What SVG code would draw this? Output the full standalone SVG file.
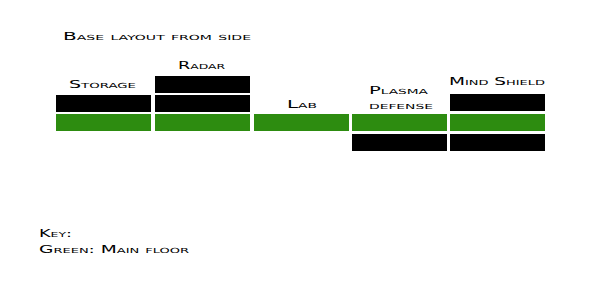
<svg xmlns="http://www.w3.org/2000/svg" width="600" height="300" viewBox="0 0 600 300">
<style>
text{font-family:"DejaVu Sans","Liberation Sans",sans-serif;font-size:10px;font-variant:small-caps;fill:#000}
.g{fill:#2d8c10}
.b{fill:#000}
</style>
<rect width="600" height="300" fill="#fff"/>
<text x="63" y="40" textLength="188" lengthAdjust="spacingAndGlyphs">Base layout from side</text>
<g id="storage">
<text x="69" y="88" textLength="67" lengthAdjust="spacingAndGlyphs">Storage</text>
<rect class="b" x="56" y="95" width="95" height="17"/>
<rect class="g" x="56" y="114" width="95" height="17"/>
</g>
<g id="radar">
<text x="178" y="69" textLength="47" lengthAdjust="spacingAndGlyphs">Radar</text>
<rect class="b" x="155" y="76" width="95" height="17"/>
<rect class="b" x="155" y="95" width="95" height="17"/>
<rect class="g" x="155" y="114" width="95" height="17"/>
</g>
<g id="lab">
<text x="287" y="108" textLength="30" lengthAdjust="spacingAndGlyphs">Lab</text>
<rect class="g" x="254" y="114" width="95" height="17"/>
</g>
<g id="plasma">
<text x="369" y="94" textLength="59" lengthAdjust="spacingAndGlyphs">Plasma</text>
<text x="369" y="109" textLength="64" lengthAdjust="spacingAndGlyphs">defense</text>
<rect class="g" x="352" y="114" width="95" height="17"/>
<rect class="b" x="352" y="134" width="95" height="17"/>
</g>
<g id="mindshield">
<text x="449" y="85" textLength="96" lengthAdjust="spacingAndGlyphs">Mind Shield</text>
<rect class="b" x="450" y="94" width="95" height="17"/>
<rect class="g" x="450" y="114" width="95" height="17"/>
<rect class="b" x="450" y="134" width="95" height="17"/>
</g>
<g id="connectors"></g>
<text x="39" y="237" textLength="33" lengthAdjust="spacingAndGlyphs">Key:</text>
<text x="39" y="253" textLength="150" lengthAdjust="spacingAndGlyphs">Green: Main floor</text>
</svg>
